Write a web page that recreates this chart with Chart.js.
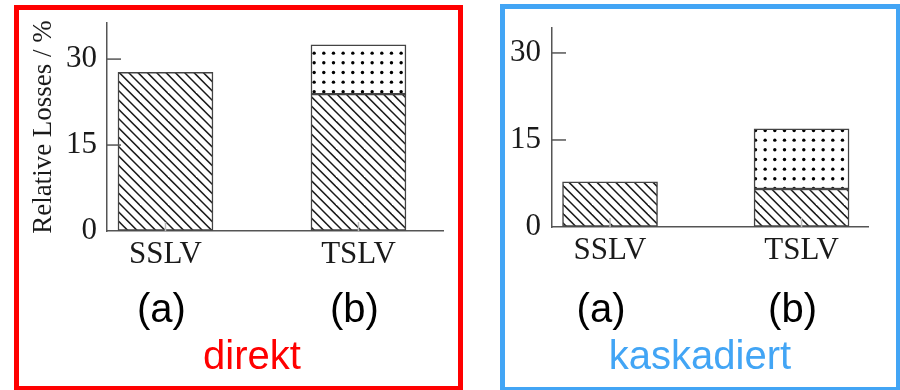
<!DOCTYPE html>
<html>
<head>
<meta charset="utf-8">
<script src="https://cdn.jsdelivr.net/npm/chart.js@4.4.1/dist/chart.umd.min.js"></script>
<style>
  body { margin: 0; background: #fff; width: 900px; height: 390px; overflow: hidden; position: relative; }
  canvas { position: absolute; top: 0; }
  .box { position: absolute; box-sizing: border-box; }
</style>
</head>
<body>
<canvas id="left" width="480" height="390" style="left:0"></canvas>
<canvas id="right" width="420" height="390" style="left:480px"></canvas>
<div class="box" style="left:14px;top:5px;width:449px;height:386px;border:5px solid #ff0000"></div>
<div class="box" style="left:500px;top:4px;width:401px;height:388px;border:5px solid #42a5f5"></div>
<script>
// Balken-Daten, Werte aus dem Bild geschaetzt
const categories = ['SSLV', 'TSLV'];
const subLabels = ['(a)', '(b)'];
const yTicks = [0, 15, 30];
// direkt
const direktLower = [27.7, 23.9];
const direktUpper = [0, 8.6];
// kaskadiert
const kaskLower = [7.8, 6.55];
const kaskUpper = [0, 10.35];

// schraffur "\\\"
function hatch(ctx) {
    const s = 28;
    const c = document.createElement('canvas');
    c.width = s; c.height = s;
    const g = c.getContext('2d');
    g.fillStyle = '#fff';
    g.fillRect(0, 0, s, s);
    g.strokeStyle = '#1a1a1a';
    g.lineWidth = 1.5;
    for (let k = -3; k <= 3; k++) {
        const o = k * s / 3;
        g.beginPath();
        g.moveTo(o - 3, -3);
        g.lineTo(o + s + 3, s + 3);
        g.stroke();
    }
    return ctx.createPattern(c, 'repeat');
}
// punkte
function dots(ctx) {
    const s = 29;
    const c = document.createElement('canvas');
    c.width = s; c.height = s;
    const g = c.getContext('2d');
    g.fillStyle = '#fff';
    g.fillRect(0, 0, s, s);
    g.fillStyle = '#000';
    for (let i = 0; i < 3; i++) {
        for (let j = 0; j < 3; j++) {
            g.beginPath();
            g.arc(i * s / 3 + 4.8, j * s / 3 + 4.8, 1.7, 0, Math.PI * 2);
            g.fill();
        }
    }
    return ctx.createPattern(c, 'repeat');
}

// zeichnet ticks nach innen, (a)/(b) und die ueberschrift unten
const extras = {
    id: 'extras',
    afterDatasetsDraw(chart, args, o) {
        const ctx = chart.ctx;
        const x = chart.scales.x, y = chart.scales.y;
        ctx.save();
        ctx.strokeStyle = '#555';
        ctx.lineWidth = 1.5;
        y.ticks.forEach(t => {
            if (t.value === 0) return;
            const py = y.getPixelForValue(t.value);
            ctx.beginPath();
            ctx.moveTo(x.left, py);
            ctx.lineTo(x.left + 14, py);
            ctx.stroke();
        });
        ctx.strokeStyle = '#bbb';
        categories.forEach((c, i) => {
            const px = x.getPixelForValue(i);
            ctx.beginPath();
            ctx.moveTo(px, y.bottom);
            ctx.lineTo(px, y.bottom - 9);
            ctx.stroke();
        });
        ctx.font = '40px "Liberation Sans"';
        ctx.textAlign = 'center';
        ctx.textBaseline = 'alphabetic';
        ctx.fillStyle = '#000';
        subLabels.forEach((s, i) => {
            ctx.fillText(s, x.getPixelForValue(i) + o.shift, 322);
        });
        ctx.fillStyle = o.color;
        ctx.fillText(o.title, o.titleX, 369);
        ctx.restore();
    }
};

function drow(id, lower, upper, cfg) {
    const ctx = document.getElementById(id).getContext('2d');
    return new Chart(ctx, {
        type: 'bar',
        data: {
            datasets: [{
                data: lower.map((v, i) => ({x: i, y: v})),
                backgroundColor: hatch(ctx),
                borderColor: '#444',
                borderWidth: 1.5,
                borderSkipped: false,
                barThickness: 95
            }, {
                data: upper.map((v, i) => ({x: i, y: v})),
                backgroundColor: dots(ctx),
                borderColor: '#444',
                borderWidth: 1.5,
                borderSkipped: false,
                barThickness: 95
            }]
        },
        options: {
            responsive: false,
            animation: false,
            layout: {padding: {left: 0, top: cfg.top, right: cfg.right, bottom: 0}},
            plugins: {
                legend: {display: false},
                tooltip: {enabled: false},
                extras: cfg.extras
            },
            scales: {
                x: {
                    type: 'linear',
                    offset: false,
                    stacked: true,
                    min: cfg.xmin,
                    max: cfg.xmax,
                    afterBuildTicks: s => { s.ticks = categories.map((c, i) => ({value: i})); },
                    afterFit: s => { s.height = cfg.xh; s.paddingLeft = 0; s.paddingRight = 0; },
                    grid: {display: true, drawOnChartArea: false, drawTicks: false},
                    border: {color: '#555', width: 1.5},
                    ticks: {
                        padding: 5,
                        color: '#1a1a1a',
                        font: {family: 'Liberation Serif', size: 31},
                        callback: v => categories[v]
                    }
                },
                y: {
                    stacked: true,
                    min: 0,
                    max: cfg.ymax,
                    afterBuildTicks: s => { s.ticks = yTicks.map(v => ({value: v})); },
                    afterFit: s => { s.width = cfg.yw; s.paddingTop = 0; s.paddingBottom = 0; },
                    grid: {display: true, drawOnChartArea: false, drawTicks: false},
                    border: {color: '#555', width: 1.5},
                    ticks: {
                        padding: cfg.tickPad,
                        color: '#1a1a1a',
                        font: {family: 'Liberation Serif', size: 31}
                    },
                    title: {
                        display: cfg.ytitle !== '',
                        text: cfg.ytitle,
                        color: '#1a1a1a',
                        font: {family: 'Liberation Serif', size: 27},
                        padding: {top: 28, bottom: 0}
                    }
                }
            }
        },
        plugins: [extras]
    });
}

drow('left', direktLower, direktUpper, {
    top: 23, right: 37, xh: 159, yw: 107, tickPad: 10,
    xmin: -0.303, xmax: 1.438, ymax: 36.3,
    ytitle: 'Relative Losses / %',
    extras: {shift: -4, title: 'direkt', titleX: 252, color: '#ff0000'}
});
drow('right', kaskLower, kaskUpper, {
    top: 28, right: 32, xh: 163, yw: 72, tickPad: 11,
    xmin: -0.303, xmax: 1.347, ymax: 34.3,
    ytitle: '',
    extras: {shift: -9, title: 'kaskadiert', titleX: 220, color: '#42a5f5'}
});
</script>
</body>
</html>
